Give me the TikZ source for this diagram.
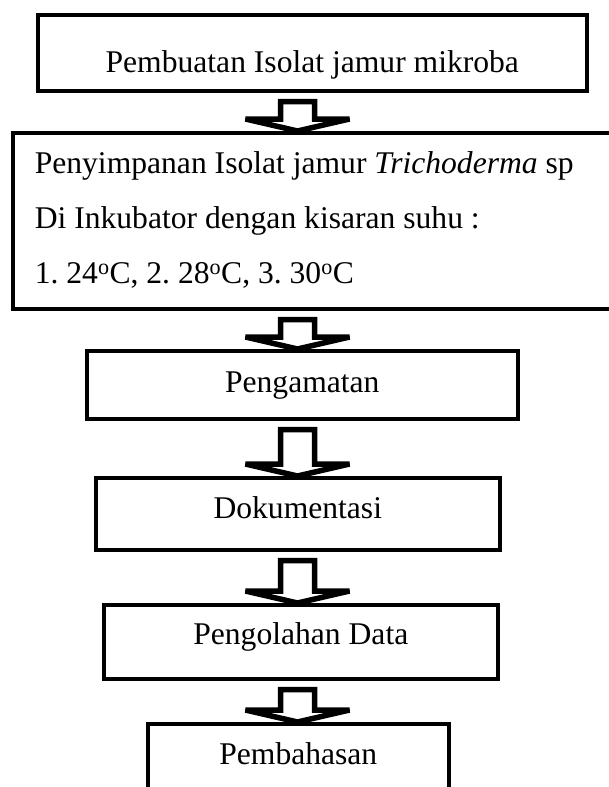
\documentclass[tikz,border=0pt]{standalone}
\usepackage{fontspec}
\setmainfont{Liberation Serif}
\usetikzlibrary{calc}
\newcommand{\blkarrow}[2]{%
  \draw[blk] ($(#1.south -| ax)+(-17,9)$) -- ($(#2.north -| ax)+(-17,-12)$) -- ++(-35,0)
    -- (#2.north -| ax) -- ++(52,-12) -- ++(-35,0) -- ($(#1.south -| ax)+(17,9)$) -- cycle;}

\begin{document}
\begin{tikzpicture}[x=1pt,y=-1pt,
  bx/.style={draw,line width=3.6pt,anchor=north west,inner sep=0pt,font=\fontsize{31.6}{55}\selectfont\frenchspacing},
  blk/.style={draw,fill=white,line width=5.5pt,miter limit=3}]
\useasboundingbox (0,0) rectangle (609,787);
\coordinate (ax) at (297.5,0);
\node[bx,minimum width=549pt,text height=58pt,text depth=18pt] (m) at (36,13) {Pembuatan Isolat jamur mikroba};
\node[bx,inner xsep=22pt,text width=576pt,align=flush left,text height=41pt,text depth=135pt] (s) at (11,131)
  {Penyimpanan Isolat jamur \textit{Trichoderma} sp\\
   Di Inkubator dengan kisaran suhu :\\
   1. 24\textsuperscript{o}C, 2. 28\textsuperscript{o}C, 3. 30\textsuperscript{o}C};
\node[bx,minimum width=431pt,text height=42pt,text depth=26pt] (o) at (85,349) {Pengamatan};
\node[bx,minimum width=404pt,text height=41pt,text depth=31pt] (d) at (94,476) {Dokumentasi};
\node[bx,minimum width=394pt,text height=40pt,text depth=34pt] (p) at (102,603) {Pengolahan Data};
\node[bx,minimum width=301pt,text height=41pt,text depth=80pt] (h) at (146,722) {Pembahasan};
\blkarrow{m}{s} \blkarrow{s}{o} \blkarrow{o}{d} \blkarrow{d}{p} \blkarrow{p}{h}
\end{tikzpicture}
\end{document}
